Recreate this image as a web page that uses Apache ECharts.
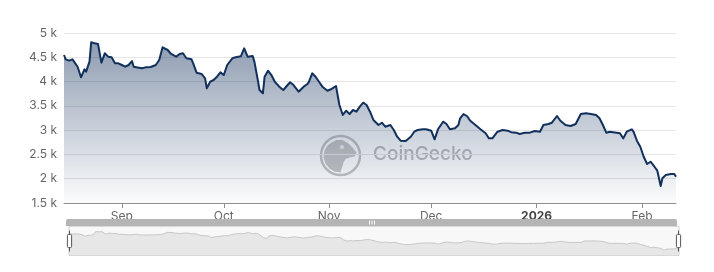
<!DOCTYPE html>
<html>
<head>
<meta charset="utf-8">
<script src="https://cdn.jsdelivr.net/npm/echarts@6/dist/echarts.min.js"></script>
<style>
html,body{margin:0;padding:0;background:#fff;}
#chart{width:714px;height:272px;}
</style>
</head>
<body>
<div id="chart"></div>
<script>
const dates = [
'2025-08-15 00:00','2025-08-15 12:00','2025-08-16 12:00','2025-08-17 12:00','2025-08-18 00:00','2025-08-19 00:00','2025-08-20 00:00','2025-08-21 00:00','2025-08-21 12:00','2025-08-22 12:00',
'2025-08-23 00:00','2025-08-24 00:00','2025-08-25 00:00','2025-08-26 00:00','2025-08-27 00:00','2025-08-28 00:00','2025-08-29 00:00','2025-08-30 00:00','2025-08-31 00:00','2025-09-01 00:00',
'2025-09-02 00:00','2025-09-03 00:00','2025-09-04 00:00','2025-09-04 12:00','2025-09-06 00:00','2025-09-07 00:00','2025-09-08 00:00','2025-09-09 12:00','2025-09-11 00:00','2025-09-12 00:00',
'2025-09-13 00:00','2025-09-14 12:00','2025-09-15 12:00','2025-09-17 00:00','2025-09-18 00:00','2025-09-19 00:00','2025-09-20 00:00','2025-09-21 12:00','2025-09-22 00:00','2025-09-23 00:00',
'2025-09-24 12:00','2025-09-25 12:00','2025-09-26 00:00','2025-09-27 00:00','2025-09-28 00:00','2025-09-29 00:00','2025-09-30 00:00','2025-10-01 00:00','2025-10-02 00:00','2025-10-03 12:00',
'2025-10-04 12:00','2025-10-05 00:00','2025-10-06 00:00','2025-10-07 00:00','2025-10-08 00:00','2025-10-08 12:00','2025-10-09 12:00','2025-10-10 00:00','2025-10-11 00:00','2025-10-11 12:00',
'2025-10-12 12:00','2025-10-13 00:00','2025-10-14 00:00','2025-10-15 00:00','2025-10-16 00:00','2025-10-17 12:00','2025-10-18 12:00','2025-10-19 12:00','2025-10-20 12:00','2025-10-21 12:00',
'2025-10-23 00:00','2025-10-24 12:00','2025-10-25 12:00','2025-10-26 00:00','2025-10-27 00:00','2025-10-28 00:00','2025-10-29 00:00','2025-10-30 00:00','2025-10-31 12:00','2025-11-01 12:00',
'2025-11-02 00:00','2025-11-03 00:00','2025-11-04 00:00','2025-11-05 00:00','2025-11-06 00:00','2025-11-07 00:00','2025-11-08 00:00','2025-11-09 00:00','2025-11-10 00:00','2025-11-11 00:00',
'2025-11-12 00:00','2025-11-13 00:00','2025-11-14 00:00','2025-11-15 12:00','2025-11-16 12:00','2025-11-17 12:00','2025-11-19 00:00','2025-11-20 00:00','2025-11-21 00:00','2025-11-22 00:00',
'2025-11-23 12:00','2025-11-25 00:00','2025-11-26 00:00','2025-11-27 00:00','2025-11-28 12:00','2025-11-29 12:00','2025-12-01 00:00','2025-12-02 00:00','2025-12-03 00:00','2025-12-04 12:00',
'2025-12-05 12:00','2025-12-06 12:00','2025-12-08 00:00','2025-12-09 00:00','2025-12-09 12:00','2025-12-10 12:00','2025-12-11 12:00','2025-12-12 12:00','2025-12-14 00:00','2025-12-15 12:00',
'2025-12-17 00:00','2025-12-18 00:00','2025-12-19 00:00','2025-12-20 12:00','2025-12-22 00:00','2025-12-23 12:00','2025-12-24 12:00','2025-12-26 00:00','2025-12-27 00:00','2025-12-28 12:00',
'2025-12-30 00:00','2025-12-31 12:00','2026-01-02 00:00','2026-01-03 00:00','2026-01-04 12:00','2026-01-05 12:00','2026-01-07 00:00','2026-01-08 00:00','2026-01-09 12:00','2026-01-11 00:00',
'2026-01-12 12:00','2026-01-13 00:00','2026-01-14 00:00','2026-01-15 12:00','2026-01-17 00:00','2026-01-18 12:00','2026-01-19 12:00','2026-01-20 12:00','2026-01-21 12:00','2026-01-22 12:00',
'2026-01-24 12:00','2026-01-25 12:00','2026-01-26 12:00','2026-01-27 12:00','2026-01-29 00:00','2026-01-29 12:00','2026-01-30 12:00','2026-01-31 12:00','2026-02-01 12:00','2026-02-02 12:00',
'2026-02-03 12:00','2026-02-04 12:00','2026-02-05 12:00','2026-02-06 12:00','2026-02-07 00:00','2026-02-08 00:00','2026-02-09 12:00','2026-02-10 12:00','2026-02-11 00:00'
];
const prices = [
4547,4458,4430,4458,4430,4306,4088,4252,4204,4410,
4808,4787,4774,4389,4582,4513,4500,4376,4376,4341,
4306,4341,4423,4306,4286,4273,4293,4300,4341,4444,
4705,4650,4568,4513,4568,4582,4479,4458,4376,4183,
4156,4067,3862,3997,4032,4100,4190,4135,4341,4479,
4500,4479,4520,4685,4513,4479,4527,4410,4032,3826,
3758,4100,4224,4135,3997,3882,3826,3909,3985,3929,
3792,3895,3944,3990,4170,4100,3997,3895,3812,3841,
3862,3909,3518,3312,3400,3332,3415,3380,3483,3565,
3518,3380,3209,3106,3153,3071,3106,3003,2865,2783,
2776,2865,2968,3003,3017,3017,2989,2811,3017,3174,
3126,3017,3038,3106,3244,3332,3291,3194,3106,3017,
2935,2831,2831,2968,3003,2989,2958,2948,2920,2948,
2948,2982,2968,3106,3126,3153,3291,3194,3106,3085,
3126,3106,3332,3346,3332,3312,3244,3106,2948,2968,
2948,2935,2831,2968,3017,2968,2783,2659,2453,2303,
2350,2262,2165,1850,2008,2076,2097,2097,2042
];
const tickDates = ['2025-09-01','2025-10-01','2025-11-01','2025-12-01','2026-01-01','2026-02-01'];
const tickLabels = ['Sep','Oct','Nov','Dec','2026','Feb'];
const yTicks = [1500,2000,2500,3000,3500,4000,4500,5000];

const DAY = 86400000;
function parseDate(s) {
  const p = s.split(/[- :]/).map(Number);
  return new Date(p[0], p[1] - 1, p[2], p[3] || 0, p[4] || 0).getTime();
}
const tickTimes = tickDates.map(parseDate);
const seriesData = dates.map((d, i) => [parseDate(d), prices[i]]);

const chart = echarts.init(document.getElementById('chart'), null, {renderer: 'canvas'});
chart.setOption({
  animation: false,
  backgroundColor: '#fff',
  textStyle: {fontFamily: 'Inter, sans-serif'},
  grid: {left: 64, right: 38, top: 33, bottom: 69},
  xAxis: {
    type: 'time',
    min: 'dataMin',
    max: 'dataMax',
    splitNumber: 6,
    minInterval: 28 * DAY,
    maxInterval: 31 * DAY,
    axisLine: {show: true, lineStyle: {color: '#8e8e8e', width: 1}},
    axisTick: {show: true, length: 5, lineStyle: {color: '#8e8e8e'}},
    splitLine: {show: false},
    axisLabel: {
      margin: 7,
      fontSize: 12,
      color: '#666',
      hideOverlap: false,
      formatter: function (v) {
        let t = '';
        for (let i = 0; i < tickTimes.length; i++) {
          if (Math.abs(tickTimes[i] - v) < 2 * DAY) { t = tickLabels[i]; }
        }
        return /^\d{4}$/.test(t) ? '{b|' + t + '}' : t;
      },
      rich: {b: {fontWeight: 'bold', color: '#444', fontSize: 12, fontFamily: 'Inter, sans-serif'}}
    }
  },
  yAxis: {
    type: 'value',
    min: yTicks[0],
    max: yTicks[yTicks.length - 1],
    interval: 500,
    axisLine: {show: false},
    axisTick: {show: false},
    splitLine: {lineStyle: {color: '#e6e6e6'}},
    axisLabel: {
      fontSize: 12,
      color: '#666',
      margin: 7,
      formatter: v => (v / 1000) + ' k'
    }
  },
  graphic: [
    {type: 'circle', x: 340.5, y: 155.5, shape: {cx: 0, cy: 0, r: 19.5}, style: {fill: 'rgba(255,255,255,0.15)', stroke: '#c4c4c4', lineWidth: 2.5}, z: 0},
    {type: 'polygon', x: 340.5, y: 155.5, shape: {points: [[-9,-13],[-4,-15.5],[2,-15.5],[8,-12],[12,-8],[16,-3],[14,1],[9,2],[5,3.5],[3,7],[1.5,12],[0,17],[-6,16],[-11,13],[-15,8],[-17,2],[-16,-5],[-13,-10]]}, style: {fill: '#c6c6c6'}, z: 0},
    {type: 'circle', x: 342, y: 147, shape: {cx: 0, cy: 0, r: 2.6}, style: {fill: '#eef0f3', stroke: '#c6c6c6', lineWidth: 1}, z: 0},
    {type: 'text', x: 373, y: 145, style: {text: 'CoinGecko', font: '500 19px Inter, sans-serif', fill: '#bdbdbd'}, z: 0},
    {type: 'rect', x: 66, y: 219, shape: {width: 611, height: 7, r: [2, 2, 0, 0]}, style: {fill: '#b5b5b5'}, z: 10},
    {type: 'rect', x: 369, y: 220.5, shape: {width: 1, height: 4}, style: {fill: '#fff'}, z: 11},
    {type: 'rect', x: 371.5, y: 220.5, shape: {width: 1, height: 4}, style: {fill: '#fff'}, z: 11},
    {type: 'rect', x: 374, y: 220.5, shape: {width: 1, height: 4}, style: {fill: '#fff'}, z: 11}
  ],
  dataZoom: [{
    type: 'slider',
    xAxisIndex: 0,
    left: 66,
    right: 37,
    top: 226,
    height: 30,
    start: 0,
    end: 100,
    showDetail: false,
    brushSelect: false,
    borderColor: '#d8d8d8',
    backgroundColor: 'rgba(0,0,0,0)',
    fillerColor: 'rgba(200,200,200,0.12)',
    handleSize: '70%',
    handleStyle: {color: '#fff', borderColor: '#555', borderWidth: 1},
    moveHandleSize: 0,
    dataBackground: {lineStyle: {color: '#c8c8c8', width: 1}, areaStyle: {color: '#ececec', opacity: 1}},
    selectedDataBackground: {lineStyle: {color: '#c8c8c8', width: 1}, areaStyle: {color: '#ececec', opacity: 1}}
  }],
  series: [{
    type: 'line',
    data: seriesData,
    showSymbol: false,
    symbol: 'none',
    lineStyle: {color: '#12305c', width: 2, join: 'round'},
    areaStyle: {
      color: {
        type: 'linear', x: 0, y: 0, x2: 0, y2: 1,
        colorStops: [
          {offset: 0, color: 'rgba(18,48,92,0.68)'},
          {offset: 1, color: 'rgba(18,48,92,0.02)'}
        ]
      }
    },
    z: 2
  }]
});
</script>
</body>
</html>
